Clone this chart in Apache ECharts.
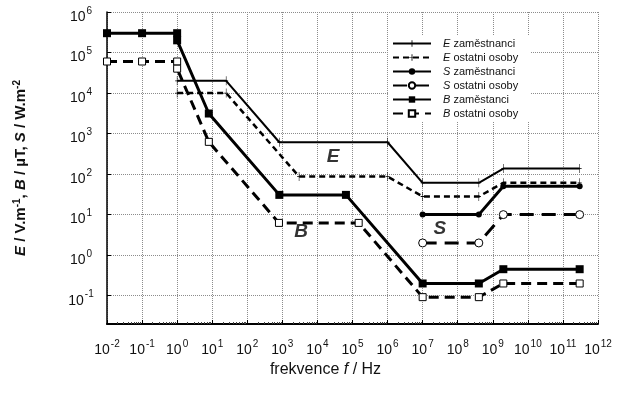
<!DOCTYPE html>
<html>
<head>
<meta charset="utf-8">
<script src="https://cdn.jsdelivr.net/npm/echarts@6/dist/echarts.min.js"></script>
<style>
html,body{margin:0;padding:0;background:#fff;}
#c{width:617px;height:398px;}
</style>
</head>
<body>
<div id="c"></div>
<script>
// ---- data (frequency in Hz, limit values) ----
const eZamFreq = [1, 25, 820, 1e6, 1e7, 4e8, 2e9, 3e11];
const eZamVal  = [2e4, 2e4, 610, 610, 61, 61, 137, 137];

const eOstFreq = [1, 25, 3000, 1e6, 1e7, 4e8, 2e9, 3e11];
const eOstVal  = [1e4, 1e4, 87, 87, 28, 28, 61, 61];

const sZamFreq = [1e7, 4e8, 2e9, 3e11];
const sZamVal  = [10, 10, 50, 50];

const sOstFreq = [1e7, 4e8, 2e9, 3e11];
const sOstVal  = [2, 2, 10, 10];

const bZamFreq = [0.01, 0.1, 1, 1, 8, 820, 6.5e4, 1e7, 4e8, 2e9, 3e11];
const bZamVal  = [3e5, 3e5, 3e5, 2e5, 3125, 30.7, 30.7, 0.2, 0.2, 0.45, 0.45];

const bOstFreq = [0.01, 0.1, 1, 1, 8, 800, 1.5e5, 1e7, 4e8, 2e9, 3e11];
const bOstVal  = [6e4, 6e4, 6e4, 4e4, 625, 6.25, 6.25, 0.092, 0.092, 0.2, 0.2];

const seriesNames = ['E zaměstnanci', 'E ostatni osoby', 'S zaměstnanci', 'S ostatni osoby', 'B zaměstanci', 'B ostatni osoby'];

const annText = ['E', 'B', 'S'];
const annFreq = [2.8e4, 3.4e3, 3.1e7];
const annVal  = [263, 3.7, 4.4];

const xMin = 0.01, xMax = 1e12, yMin = 0.02, yMax = 1e6;

// ---- helpers ----
const pairs = (f, v) => f.map((x, i) => [x, v[i]]);
function powLabel(v) {
  const l = Math.log10(v);
  const e = Math.round(l);
  if (Math.abs(l - e) > 1e-4) return '';
  return '{b|10}{s|' + e + '}';
}
const FONT = 'Liberation Sans';
const plusPath = 'path://M2.6,0H3.4V9H2.6Z M0,4.1H6V4.9H0Z';
const supRich = {
  b: {fontSize: 14, fontFamily: FONT, color: '#111', verticalAlign: 'bottom', lineHeight: 16},
  s: {fontSize: 10, fontFamily: FONT, color: '#111', verticalAlign: 'bottom', padding: [0, 0, 8, 1], lineHeight: 12}
};

const chart = echarts.init(document.getElementById('c'), null, {renderer: 'canvas'});

const gridLine = {show: true, lineStyle: {type: 'dotted', color: '#8c8c8c', width: 1}};

const option = {
  animation: false,
  backgroundColor: '#fff',
  grid: {left: 107, right: 19, top: 12, bottom: 74, containLabel: false},
  legend: {
    orient: 'vertical',
    left: 388, top: 35,
    padding: [3, 12, 3, 4],
    backgroundColor: '#fff',
    itemWidth: 38, itemHeight: 8, itemGap: 3,
    data: seriesNames,
    formatter: n => '{i|' + n[0] + '}{t|' + n.slice(1) + '}',
    textStyle: {
      fontSize: 11, fontFamily: FONT, color: '#111',
      rich: {
        i: {fontStyle: 'italic', fontSize: 11, fontFamily: FONT, padding: [0, 0, 0, 7]},
        t: {fontSize: 11, fontFamily: FONT}
      }
    }
  },
  xAxis: {
    type: 'log', logBase: 10, min: xMin, max: xMax, interval: 1,
    name: 'frekvence {i|f} / Hz', nameLocation: 'middle', nameGap: 24,
    nameTextStyle: {fontSize: 16, fontFamily: FONT, color: '#111', padding: [0, 54, 0, 0],
      rich: {i: {fontStyle: 'italic', fontSize: 16, fontFamily: FONT}}},
    axisLine: {show: true, lineStyle: {color: '#000', width: 2}},
    axisTick: {show: true, inside: true, length: 4, lineStyle: {color: '#000'}},
    minorTick: {show: true, splitNumber: 9, length: 2, lineStyle: {color: '#444'}},
    axisLabel: {formatter: powLabel, rich: supRich, margin: 17, hideOverlap: false},
    splitLine: gridLine
  },
  yAxis: {
    type: 'log', logBase: 10, min: yMin, max: yMax, splitNumber: 8,
    name: '{i|E} / V.m{s|-1}, {i|B} / µT, {i|S} / W.m{s|-2}',
    nameLocation: 'middle', nameGap: 77, nameRotate: 90,
    nameTextStyle: {fontSize: 15, fontWeight: 'bold', fontFamily: FONT, color: '#111',
      rich: {
        i: {fontStyle: 'italic', fontWeight: 'bold', fontSize: 15, fontFamily: FONT},
        s: {fontWeight: 'bold', fontSize: 10, fontFamily: FONT, verticalAlign: 'bottom', padding: [0, 0, 8, 0]}
      }},
    axisLine: {show: true, lineStyle: {color: '#000', width: 1.5}},
    axisTick: {show: true, inside: true, length: 4, lineStyle: {color: '#000'}},
    minorTick: {show: false},
    axisLabel: {formatter: powLabel, rich: supRich, margin: 26, align: 'center', padding: [8, 0, 0, 0], hideOverlap: false},
    splitLine: gridLine
  },
  series: [
    {
      name: seriesNames[0], type: 'line', data: pairs(eZamFreq, eZamVal),
      symbol: plusPath, symbolSize: [6, 9], symbolKeepAspect: true,
      itemStyle: {color: '#000'}, lineStyle: {color: '#000', width: 2}
    },
    {
      name: seriesNames[1], type: 'line', data: pairs(eOstFreq, eOstVal),
      symbol: plusPath, symbolSize: [6, 9], symbolKeepAspect: true,
      itemStyle: {color: '#000'}, lineStyle: {color: '#000', width: 2.5, type: [6, 4]}
    },
    {
      name: seriesNames[2], type: 'line', data: pairs(sZamFreq, sZamVal),
      symbol: 'circle', symbolSize: 6,
      itemStyle: {color: '#000'}, lineStyle: {color: '#000', width: 3}
    },
    {
      name: seriesNames[3], type: 'line', data: pairs(sOstFreq, sOstVal),
      symbol: 'circle', symbolSize: 8,
      itemStyle: {color: '#fff', borderColor: '#000', borderWidth: 1},
      lineStyle: {color: '#000', width: 3, type: [14, 8]}
    },
    {
      name: seriesNames[4], type: 'line', data: pairs(bZamFreq, bZamVal),
      symbol: 'rect', symbolSize: 8,
      itemStyle: {color: '#000'}, lineStyle: {color: '#000', width: 3}
    },
    {
      name: seriesNames[5], type: 'line', data: pairs(bOstFreq, bOstVal),
      symbol: 'rect', symbolSize: 7,
      itemStyle: {color: '#fff', borderColor: '#000', borderWidth: 1},
      lineStyle: {color: '#000', width: 3, type: [10, 6]}
    },
    {
      name: 'ann', type: 'scatter', data: pairs(annFreq, annVal),
      symbol: 'circle', symbolSize: 1, silent: true,
      itemStyle: {color: 'rgba(0,0,0,0)'},
      label: {
        show: true, position: 'inside',
        formatter: p => annText[p.dataIndex],
        fontSize: 19, fontStyle: 'italic', fontWeight: 'bold', fontFamily: FONT, color: '#000'
      }
    }
  ]
};
chart.setOption(option);
</script>
</body>
</html>
